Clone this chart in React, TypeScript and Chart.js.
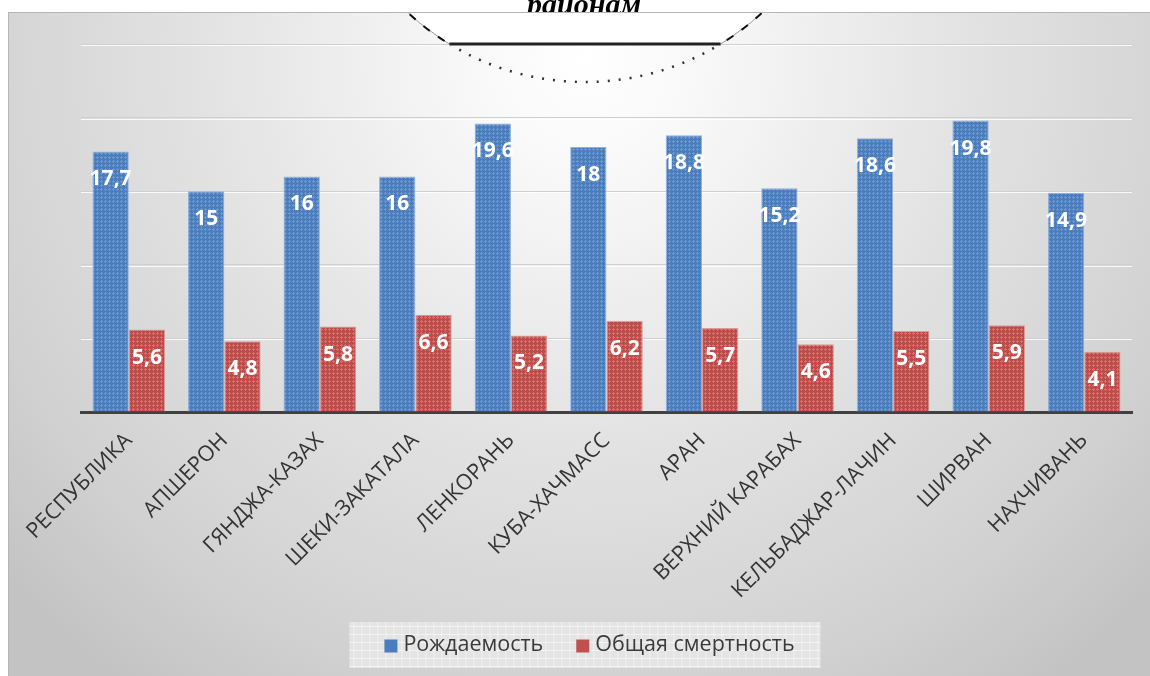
import React, { useEffect, useRef } from "react";
import { Chart, registerables } from "chart.js";

Chart.register(...registerables);

const categories = [
  "РЕСПУБЛИКА",
  "АПШЕРОН",
  "ГЯНДЖА-КАЗАХ",
  "ШЕКИ-ЗАКАТАЛА",
  "ЛЕНКОРАНЬ",
  "КУБА-ХАЧМАСС",
  "АРАН",
  "ВЕРХНИЙ КАРАБАХ",
  "КЕЛЬБАДЖАР-ЛАЧИН",
  "ШИРВАН",
  "НАХЧИВАНЬ",
];
const birthRate = [17.7, 15, 16, 16, 19.6, 18, 18.8, 15.2, 18.6, 19.8, 14.9];
const deathRate = [5.6, 4.8, 5.8, 6.6, 5.2, 6.2, 5.7, 4.6, 5.5, 5.9, 4.1];
const seriesNames = ["Рождаемость", "Общая смертность"];
const yMin = 0;
const yMax = 25;
const yStep = 5;
const titleText = "районам";

const W = 1150;
const H = 676;
const FONT = '"Open Sans", "Noto Sans", sans-serif';

function makePattern(base: string, light: string) {
  const c = document.createElement("canvas");
  c.width = 4;
  c.height = 4;
  const x = c.getContext("2d")!;
  x.fillStyle = base;
  x.fillRect(0, 0, 4, 4);
  x.fillStyle = light;
  x.fillRect(1, 0, 1, 1);
  x.fillRect(0, 1, 3, 1);
  x.fillRect(1, 2, 1, 1);
  return x.createPattern(c, "repeat")!;
}

const backgroundPlugin = {
  id: "bgPlugin",
  beforeDraw(chart: any) {
    const ctx = chart.ctx as CanvasRenderingContext2D;
    ctx.save();
    ctx.fillStyle = "#ffffff";
    ctx.fillRect(0, 0, W, H);
    // cut-off title
    ctx.fillStyle = "#000";
    ctx.font = 'bold italic 30px "Liberation Serif", serif';
    ctx.textAlign = "center";
    ctx.textBaseline = "alphabetic";
    ctx.fillText(titleText, 584, 14);
    // frame with radial gradient
    const g = ctx.createRadialGradient(585, 60, 0, 585, 60, 780);
    g.addColorStop(0, "#ffffff");
    g.addColorStop(0.15, "#f8f8f8");
    g.addColorStop(0.5, "#e2e2e2");
    g.addColorStop(0.8, "#d2d2d2");
    g.addColorStop(1, "#c3c3c3");
    ctx.fillStyle = g;
    ctx.fillRect(8, 12, W - 8, H - 12);
    ctx.strokeStyle = "#b5b5b5";
    ctx.lineWidth = 1;
    ctx.strokeRect(8.5, 12.5, W, H);
    ctx.restore();
  },
  beforeDatasetsDraw(chart: any) {
    const ctx = chart.ctx as CanvasRenderingContext2D;
    const ys = chart.scales.y;
    const area = chart.chartArea;
    ctx.save();
    // white highlight under gridlines
    ctx.strokeStyle = "rgba(255,255,255,0.85)";
    ctx.lineWidth = 1;
    ys.ticks.forEach((t: any) => {
      if (t.value === yMin) return;
      const y = Math.round(ys.getPixelForValue(t.value)) + 1.5;
      ctx.beginPath();
      ctx.moveTo(area.left, y);
      ctx.lineTo(area.right, y);
      ctx.stroke();
    });
    // decorative lens artifact at top
    const cx = 585, cy = -179, r = 261;
    const lineY = ys.getPixelForValue(yMax);
    ctx.save();
    ctx.beginPath();
    ctx.rect(8, 13, W, lineY - 13);
    ctx.clip();
    ctx.beginPath();
    ctx.arc(cx, cy, r, 0, Math.PI * 2);
    ctx.fillStyle = "#ffffff";
    ctx.fill();
    ctx.strokeStyle = "#9a9a9a";
    ctx.lineWidth = 1;
    ctx.stroke();
    ctx.setLineDash([8, 10]);
    ctx.strokeStyle = "#111";
    ctx.lineWidth = 2;
    ctx.stroke();
    ctx.restore();
    const dx = Math.sqrt(r * r - (lineY - cy) * (lineY - cy));
    ctx.beginPath();
    ctx.moveTo(cx - dx, lineY);
    ctx.lineTo(cx + dx, lineY);
    ctx.strokeStyle = "#222";
    ctx.lineWidth = 3;
    ctx.stroke();
    ctx.save();
    ctx.beginPath();
    ctx.rect(8, lineY + 2, W, 100);
    ctx.clip();
    ctx.beginPath();
    ctx.arc(cx, cy, r, 0, Math.PI);
    ctx.setLineDash([2, 9]);
    ctx.strokeStyle = "#333";
    ctx.lineWidth = 2.5;
    ctx.stroke();
    ctx.restore();
    ctx.restore();
  },
  afterDatasetsDraw(chart: any) {
    const ctx = chart.ctx as CanvasRenderingContext2D;
    ctx.save();
    ctx.fillStyle = "#ffffff";
    ctx.font = `bold 21px ${FONT}`;
    ctx.textAlign = "center";
    ctx.textBaseline = "middle";
    chart.data.datasets.forEach((ds: any, di: number) => {
      const meta = chart.getDatasetMeta(di);
      meta.data.forEach((bar: any, i: number) => {
        const v = ds.data[i];
        ctx.fillText(String(v).replace(".", ","), bar.x, bar.y + 28);
      });
    });
    ctx.restore();
  },
  afterDraw(chart: any) {
    const ctx = chart.ctx as CanvasRenderingContext2D;
    ctx.save();
    ctx.font = `21.5px ${FONT}`;
    const sq = 13, gap = 6, spacing = 33, padL = 35, padR = 26;
    const items = chart.data.datasets.map((ds: any) => ({
      label: ds.label,
      color: ds.legendColor,
      w: ctx.measureText(ds.label).width,
    }));
    const total = items.reduce((s: number, it: any) => s + sq + gap + it.w, 0) + spacing * (items.length - 1);
    const boxW = total + padL + padR;
    const boxX = 585 - boxW / 2;
    const boxY = 622, boxH = 46;
    ctx.fillStyle = "#e4e4e4";
    ctx.fillRect(boxX, boxY, boxW, boxH);
    ctx.strokeStyle = "rgba(255,255,255,0.5)";
    ctx.lineWidth = 1;
    for (let gx = boxX + 4; gx < boxX + boxW; gx += 8) {
      ctx.beginPath();
      ctx.moveTo(gx + 0.5, boxY);
      ctx.lineTo(gx + 0.5, boxY + boxH);
      ctx.stroke();
    }
    for (let gy = boxY + 4; gy < boxY + boxH; gy += 8) {
      ctx.beginPath();
      ctx.moveTo(boxX, gy + 0.5);
      ctx.lineTo(boxX + boxW, gy + 0.5);
      ctx.stroke();
    }
    let x = boxX + padL;
    const cyL = boxY + boxH / 2;
    ctx.textBaseline = "middle";
    ctx.textAlign = "left";
    items.forEach((it: any) => {
      ctx.fillStyle = it.color;
      ctx.fillRect(x, cyL - sq / 2 + 1, sq, sq);
      x += sq + gap;
      ctx.fillStyle = "#3a3a3a";
      ctx.fillText(it.label, x, cyL);
      x += it.w + spacing;
    });
    ctx.restore();
  },
};

export default function App() {
  const ref = useRef<HTMLCanvasElement | null>(null);
  useEffect(() => {
    if (!ref.current) return;
    const blueP = makePattern("#4a7dbd", "#6d97cc");
    const redP = makePattern("#bf4b49", "#d27270");
    const chart = new Chart(ref.current, {
      type: "bar",
      data: {
        labels: categories,
        datasets: [
          {
            label: seriesNames[0],
            data: birthRate,
            backgroundColor: blueP as any,
            borderColor: "#8fb0da",
            borderWidth: 1,
            categoryPercentage: 0.76,
            barPercentage: 1,
            legendColor: "#4a7dbd",
          } as any,
          {
            label: seriesNames[1],
            data: deathRate,
            backgroundColor: redP as any,
            borderColor: "#de9a98",
            borderWidth: 1,
            categoryPercentage: 0.76,
            barPercentage: 1,
            legendColor: "#c0504d",
          } as any,
        ],
      },
      options: {
        responsive: false,
        animation: false,
        devicePixelRatio: 1,
        layout: { padding: { left: 81, right: 18, top: 44, bottom: 0 } },
        plugins: { legend: { display: false }, tooltip: { enabled: false }, title: { display: false } },
        scales: {
          x: {
            grid: { display: false, drawTicks: false },
            border: { display: true, color: "#404040", width: 3 },
            ticks: {
              autoSkip: false,
              maxRotation: 45,
              minRotation: 45,
              color: "#333333",
              font: { family: FONT, size: 21.5 },
              padding: 16,
            },
            afterFit: (s: any) => {
              s.height = H - 412;
            },
          },
          y: {
            min: yMin,
            max: yMax,
            ticks: { display: false, stepSize: yStep },
            grid: { color: "#cfcfcf", lineWidth: 1, drawTicks: false },
            border: { display: false },
            afterFit: (s: any) => {
              s.width = 0;
            },
          },
        },
      },
      plugins: [backgroundPlugin],
    });
    return () => chart.destroy();
  }, []);
  return (
    <div style={{ position: "absolute", left: 0, top: 0, width: W, height: H }}>
      <canvas ref={ref} width={W} height={H} style={{ display: "block", width: W, height: H }} />
    </div>
  );
}
